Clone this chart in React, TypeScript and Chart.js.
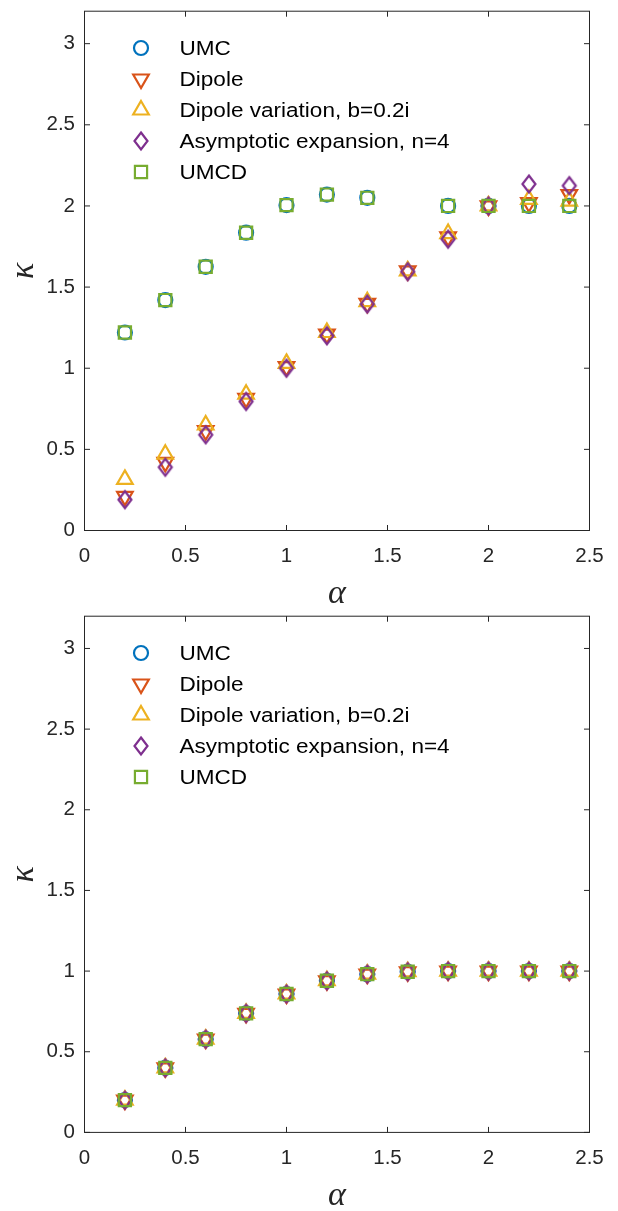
import React, { useEffect, useRef } from 'react';
import { Chart, registerables } from 'chart.js';
import { drawPoint } from 'chart.js/helpers';

Chart.register(...registerables);

// ---------- DATA ----------
const alphaValues = [0.2, 0.4, 0.6, 0.8, 1.0, 1.2, 1.4, 1.6, 1.8, 2.0, 2.2, 2.4];

const seriesLabels = ['UMC', 'Dipole', 'Dipole variation, b=0.2i', 'Asymptotic expansion, n=4', 'UMCD'];

// top panel
const topUMC = [1.22, 1.42, 1.625, 1.835, 2.005, 2.07, 2.05, null, 2.0, 2.0, 2.0, 2.0];
const topDipole = [0.21, 0.42, 0.615, 0.815, 1.01, 1.21, 1.4, 1.6, 1.81, 2.0, 2.02, 2.07];
const topDipoleVar = [0.315, 0.47, 0.65, 0.84, 1.03, 1.22, 1.41, 1.6, 1.83, 2.0, 2.04, 2.03];
const topAsym = [0.19, 0.39, 0.59, 0.795, 1.0, 1.2, 1.395, 1.595, 1.795, 2.0, 2.135, 2.125];
const topUMCD = [1.22, 1.42, 1.625, 1.835, 2.005, 2.07, 2.05, null, 2.0, 2.0, 2.0, 2.0];

// bottom panel
const botUMC = [0.2, 0.4, 0.578, 0.738, 0.858, 0.94, 0.981, 0.996, 1.0, 1.0, 1.0, 1.0];
const botDipole = [0.2, 0.4, 0.578, 0.738, 0.858, 0.94, 0.981, 0.996, 1.0, 1.0, 1.0, 1.0];
const botDipoleVar = [0.2, 0.4, 0.578, 0.738, 0.858, 0.94, 0.981, 0.996, 1.0, 1.0, 1.0, 1.0];
const botAsym = [0.2, 0.4, 0.578, 0.738, 0.858, 0.94, 0.981, 0.996, 1.0, 1.0, 1.0, 1.0];
const botUMCD = [0.2, 0.4, 0.578, 0.738, 0.858, 0.94, 0.981, 0.996, 1.0, 1.0, 1.0, 1.0];

const xTickValues = [0, 0.5, 1, 1.5, 2, 2.5];
const xTickLabels = ['0', '0.5', '1', '1.5', '2', '2.5'];
const yTickValues = [0, 0.5, 1, 1.5, 2, 2.5, 3];
const yTickLabels = ['0', '0.5', '1', '1.5', '2', '2.5', '3'];

const xTitle = 'α';
const yTitle = 'κ';

// ---------- STYLE ----------
const colors = ['#0072BD', '#D95319', '#EDB120', '#7E2F8E', '#77AC30'];
const axisColor = '#262626';
const sansFont = '"Liberation Sans", Arial, Helvetica, sans-serif';
const serifFont = '"Liberation Serif", "Times New Roman", serif';
const MARKER_W = 2.2;

function makeDiamond(color: string): HTMLCanvasElement {
  const c = document.createElement('canvas');
  c.width = 18;
  c.height = 22;
  const ctx = c.getContext('2d')!;
  ctx.strokeStyle = color;
  ctx.lineWidth = MARKER_W;
  ctx.lineJoin = 'miter';
  ctx.beginPath();
  ctx.moveTo(9, 2.5);
  ctx.lineTo(15.5, 11);
  ctx.lineTo(9, 19.5);
  ctx.lineTo(2.5, 11);
  ctx.closePath();
  ctx.stroke();
  return c;
}

function labelFor(values: number[], labels: string[], v: number) {
  const i = values.findIndex((t) => Math.abs(t - v) < 1e-6);
  return i >= 0 ? labels[i] : '';
}

const framePlugin = {
  id: 'matlabFrame',
  afterDraw(chart: any) {
    const { ctx, chartArea: a, scales } = chart;
    const xs = scales.x;
    const ys = scales.y;
    ctx.save();
    // box
    ctx.strokeStyle = axisColor;
    ctx.lineWidth = 1;
    ctx.strokeRect(a.left, a.top, a.right - a.left, a.bottom - a.top);
    // inward ticks on all four sides
    const tl = 5.5;
    ctx.beginPath();
    xTickValues.forEach((v) => {
      const px = xs.getPixelForValue(v);
      ctx.moveTo(px, a.bottom);
      ctx.lineTo(px, a.bottom - tl);
      ctx.moveTo(px, a.top);
      ctx.lineTo(px, a.top + tl);
    });
    yTickValues.forEach((v) => {
      const py = ys.getPixelForValue(v);
      ctx.moveTo(a.left, py);
      ctx.lineTo(a.left + tl, py);
      ctx.moveTo(a.right, py);
      ctx.lineTo(a.right - tl, py);
    });
    ctx.stroke();

    // legend
    const legX = a.left + 56.5;
    const textX = a.left + 95;
    const legY0 = a.top + 36.8;
    const rowH = 31;
    chart.data.datasets.forEach((ds: any, i: number) => {
      const y = legY0 + i * rowH;
      ctx.save();
      ctx.strokeStyle = ds.pointBorderColor;
      ctx.fillStyle = 'rgba(0,0,0,0)';
      ctx.lineWidth = ds.pointBorderWidth;
      drawPoint(ctx, {
        pointStyle: ds.pointStyle,
        radius: ds.pointRadius,
        rotation: ds.pointRotation || 0,
        borderWidth: ds.pointBorderWidth,
      } as any, legX, y);
      ctx.restore();
      ctx.save();
      ctx.fillStyle = '#000000';
      ctx.font = `20.5px ${sansFont}`;
      ctx.textBaseline = 'middle';
      ctx.textAlign = 'left';
      ctx.translate(textX, y + 1);
      ctx.scale(1.1, 1);
      ctx.fillText(ds.label, 0, 0);
      ctx.restore();
    });

    // axis titles
    const tSize = 34;
    ctx.fillStyle = axisColor;
    ctx.font = `italic ${tSize}px ${serifFont}`;
    ctx.textAlign = 'center';
    ctx.textBaseline = 'alphabetic';
    ctx.fillText(xTitle, (a.left + a.right) / 2, a.bottom + 65.5 + 0.22 * tSize);
    ctx.save();
    ctx.translate(26, (a.top + a.bottom) / 2);
    ctx.rotate(-Math.PI / 2);
    ctx.fillText(yTitle, 0, 0.22 * tSize);
    ctx.restore();
    ctx.restore();
  },
};

function buildDatasets(series: (number | null)[][]) {
  const diamond = makeDiamond(colors[3]);
  const styles: any[] = [
    { pointStyle: 'circle', pointRadius: 7, pointRotation: 0 },
    { pointStyle: 'triangle', pointRadius: 9, pointRotation: 180 },
    { pointStyle: 'triangle', pointRadius: 9, pointRotation: 0 },
    { pointStyle: diamond, pointRadius: 9, pointRotation: 0 },
    { pointStyle: 'rect', pointRadius: 8.6, pointRotation: 0 },
  ];
  return series.map((vals, i) => ({
    label: seriesLabels[i],
    data: alphaValues
      .map((x, j) => ({ x, y: vals[j] }))
      .filter((p) => p.y !== null && p.y !== undefined),
    showLine: false,
    pointBorderColor: colors[i],
    pointBackgroundColor: 'rgba(0,0,0,0)',
    pointBorderWidth: MARKER_W,
    pointHoverRadius: styles[i].pointRadius,
    order: 5 - i,
    ...styles[i],
  }));
}

type PanelProps = {
  top: number;
  height: number;
  areaTop: number;
  areaBottom: number;
  series: (number | null)[][];
};

function Panel({ top, height, areaTop, areaBottom, series }: PanelProps) {
  const ref = useRef<HTMLCanvasElement>(null);
  useEffect(() => {
    const canvas = ref.current!;
    const xAxisHeight = height - areaBottom;
    const chart = new Chart(canvas, {
      type: 'scatter',
      data: { datasets: buildDatasets(series) as any },
      options: {
        animation: false,
        responsive: false,
        devicePixelRatio: 1,
        layout: { padding: { top: areaTop, right: 28.5, left: 0, bottom: 0 } },
        plugins: {
          legend: { display: false },
          tooltip: { enabled: false },
        },
        scales: {
          x: {
            type: 'linear',
            min: 0,
            max: 2.5,
            grid: { display: false, drawTicks: false },
            border: { display: false },
            ticks: {
              stepSize: 0.5,
              includeBounds: false,
              maxRotation: 0,
              autoSkip: false,
              padding: 14,
              color: axisColor,
              font: { family: sansFont, size: 20.5 },
              callback: (v: any) => labelFor(xTickValues, xTickLabels, Number(v)),
            },
            afterFit: (s: any) => {
              s.height = xAxisHeight;
              s.paddingLeft = 0;
              s.paddingRight = 0;
            },
          },
          y: {
            type: 'linear',
            min: 0,
            max: 3.2,
            grid: { display: false, drawTicks: false },
            border: { display: false },
            ticks: {
              stepSize: 0.5,
              includeBounds: false,
              autoSkip: false,
              padding: 9.5,
              color: axisColor,
              font: { family: sansFont, size: 20.5 },
              callback: (v: any) => labelFor(yTickValues, yTickLabels, Number(v)),
            },
            afterFit: (s: any) => {
              s.width = 84.5;
              s.paddingTop = 0;
              s.paddingBottom = 0;
            },
          },
        },
      },
      plugins: [framePlugin],
    } as any);
    return () => chart.destroy();
  }, []);
  return (
    <canvas
      ref={ref}
      width={618}
      height={height}
      style={{ position: 'absolute', left: 0, top, width: 618, height }}
    />
  );
}

export default function App() {
  return (
    <div style={{ position: 'absolute', left: 0, top: 0, width: 618, height: 1211, background: '#ffffff' }}>
      <Panel
        top={0}
        height={605}
        areaTop={7.3}
        areaBottom={530.5}
        series={[topUMC, topDipole, topDipoleVar, topAsym, topUMCD]}
      />
      <Panel
        top={605}
        height={606}
        areaTop={4.3}
        areaBottom={527.4}
        series={[botUMC, botDipole, botDipoleVar, botAsym, botUMCD]}
      />
    </div>
  );
}
